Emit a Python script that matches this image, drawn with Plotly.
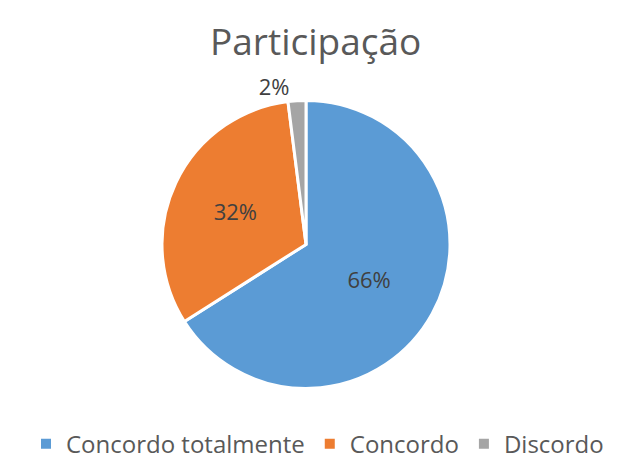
import plotly.graph_objects as go

categories = ["Concordo totalmente", "Concordo", "Discordo"]
values = [66, 32, 2]
colors = ["#5B9BD5", "#ED7D31", "#A5A5A5"]
text_positions = ["inside", "inside", "outside"]

W, H = 619, 459

fig = go.Figure(go.Pie(
    labels=categories,
    values=values,
    sort=False,
    direction="clockwise",
    rotation=0,
    marker=dict(colors=colors, line=dict(color="white", width=3)),
    textinfo="percent",
    textposition=text_positions,
    insidetextorientation="horizontal",
    textfont=dict(family="Open Sans", size=22, color="#404040"),
    outsidetextfont=dict(family="Open Sans", size=22, color="#404040"),
    domain=dict(x=[154 / W, 442 / W], y=[1 - 385 / H, 1 - 93 / H]),
    hoverinfo="label+percent",
))

fig.update_layout(
    width=W, height=H,
    margin=dict(l=0, r=0, t=0, b=0),
    paper_bgcolor="white",
    title=dict(text="Participação", x=0.497, xanchor="center", y=1 - 34 / H, yanchor="middle",
               font=dict(family="Open Sans", size=37, color="#595959")),
    showlegend=True,
    legend=dict(orientation="h", x=0.5, xanchor="center", y=1 - 441 / H, yanchor="middle",
                font=dict(family="Open Sans", size=24, color="#595959"),
                itemwidth=30, itemsizing="constant"),
)

fig.write_html("out.html")
